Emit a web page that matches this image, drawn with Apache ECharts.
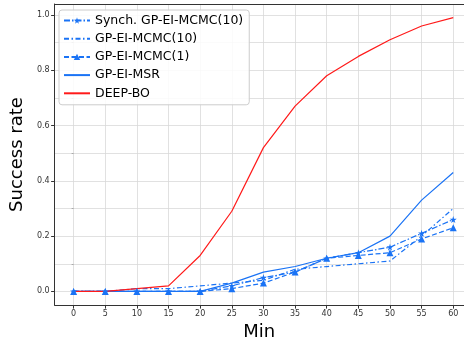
<!DOCTYPE html>
<html><head><meta charset="utf-8">
<script src="https://cdn.jsdelivr.net/npm/echarts@6/dist/echarts.min.js"></script>
<style>html,body{margin:0;padding:0;background:#fff}#c{width:464px;height:346px}</style>
</head><body><div id="c"></div>
<script>
const minutes = [0,5,10,15,20,25,30,35,40,45,50,55,60];
const synchMcmc10 = [0,0,0,0,0,0.02,0.05,0.07,0.12,0.14,0.16,0.21,0.26];
const mcmc10 = [0,0,0.01,0.01,0.02,0.03,0.04,0.08,0.09,0.10,0.11,0.20,0.30];
const mcmc1 = [0,0,0,0,0,0.01,0.03,0.07,0.12,0.13,0.14,0.19,0.23];
const msr = [0,0,0,0,0,0.03,0.07,0.09,0.12,0.14,0.20,0.33,0.43];
const deepBo = [0,0,0.01,0.02,0.13,0.29,0.52,0.67,0.78,0.85,0.91,0.96,0.99];
const xTicks = [0,5,10,15,20,25,30,35,40,45,50,55,60];
const yTicks = [0,0.2,0.4,0.6,0.8,1.0];
const yMinor = [0.1,0.3,0.5,0.7,0.9];
const names = ['Synch. GP-EI-MCMC(10)','GP-EI-MCMC(10)','GP-EI-MCMC(1)','GP-EI-MSR','DEEP-BO'];

const BLUE = '#1a73f5';
const RED = '#ff1a1a';
const STAR = 'path://M50,0 L61,35 L98,35 L68,57 L79,91 L50,70 L21,91 L32,57 L2,35 L39,35 Z';
const pair = a => minutes.map((m,i)=>[m,a[i]]);
const font = 'DejaVu Sans';

const chart = echarts.init(document.getElementById('c'), null, {renderer:'canvas'});
const gridLine = {show:true, lineStyle:{color:'#d9d9d9', width:0.8}};
chart.setOption({
  animation:false,
  textStyle:{fontFamily:font},
  grid:{left:53, right:0, top:4, bottom:39},
  legend:{
    left:59, top:10, orient:'vertical',
    data:[
      {name:names[0]},
      {name:names[1], itemStyle:{opacity:0}},
      {name:names[2]},
      {name:names[3], itemStyle:{opacity:0}},
      {name:names[4], itemStyle:{opacity:0}}
    ],
    itemWidth:26, itemHeight:8, itemGap:5.2,
    textStyle:{fontSize:12.5, color:'#000', fontFamily:font},
    borderColor:'#cccccc', borderWidth:1, borderRadius:3,
    backgroundColor:'rgba(255,255,255,0.85)',
    padding:[4,6,5,4]
  },
  xAxis:[{
    type:'value', min:-3, max:61.7,
    name:'Min', nameLocation:'middle', nameGap:17,
    nameTextStyle:{fontSize:18, color:'#000', fontFamily:font},
    axisLine:{show:true, onZero:false, lineStyle:{color:'#333', width:1}},
    axisTick:{show:true, inside:false, length:3.5, customValues:xTicks, lineStyle:{color:'#333'}},
    axisLabel:{customValues:xTicks, fontSize:8, color:'#333', margin:5, fontFamily:font},
    splitLine:gridLine
  },{
    type:'value', position:'top', min:-3, max:61.7,
    axisLine:{show:true, onZero:false, lineStyle:{color:'#333', width:1}},
    axisTick:{show:false}, axisLabel:{show:false}, splitLine:{show:false}
  }],
  yAxis:[{
    type:'value', min:-0.0495, max:1.0395,
    name:'Success rate', nameLocation:'middle', nameGap:27,
    nameTextStyle:{fontSize:18, color:'#000', fontFamily:font},
    axisLine:{show:true, onZero:false, lineStyle:{color:'#333', width:1}},
    axisTick:{show:true, length:3.5, customValues:yTicks, lineStyle:{color:'#333'}},
    axisLabel:{customValues:yTicks, fontSize:8, color:'#333', margin:5, fontFamily:font,
      formatter:v=>v.toFixed(1)},
    splitLine:gridLine
  },{
    type:'value', min:-0.0495, max:1.0395, position:'left',
    axisLine:{show:false},
    axisTick:{show:true, length:2, customValues:yMinor, lineStyle:{color:'#aaa'}},
    axisLabel:{show:false},
    splitLine:gridLine
  }],
  series:[
    {name:names[0], type:'line', data:pair(synchMcmc10), symbol:STAR, symbolSize:7, showSymbol:true,
     color:BLUE, lineStyle:{color:BLUE, width:1.2, type:[6,2,1.5,2]}, itemStyle:{color:BLUE}},
    {name:names[1], type:'line', data:pair(mcmc10), symbol:'none',
     color:BLUE, lineStyle:{color:BLUE, width:1.2, type:[5,2.5,1.5,2.5]}, itemStyle:{color:BLUE}},
    {name:names[2], type:'line', data:pair(mcmc1), symbol:'triangle', symbolSize:7,
     color:BLUE, lineStyle:{color:BLUE, width:1.2, type:[5,2.5]}, itemStyle:{color:BLUE}},
    {name:names[3], type:'line', data:pair(msr), symbol:'none',
     color:BLUE, lineStyle:{color:BLUE, width:1.2}, itemStyle:{color:BLUE}},
    {name:names[4], type:'line', data:pair(deepBo), symbol:'none',
     color:RED, lineStyle:{color:RED, width:1.2}, itemStyle:{color:RED}}
  ]
});
</script></body></html>
